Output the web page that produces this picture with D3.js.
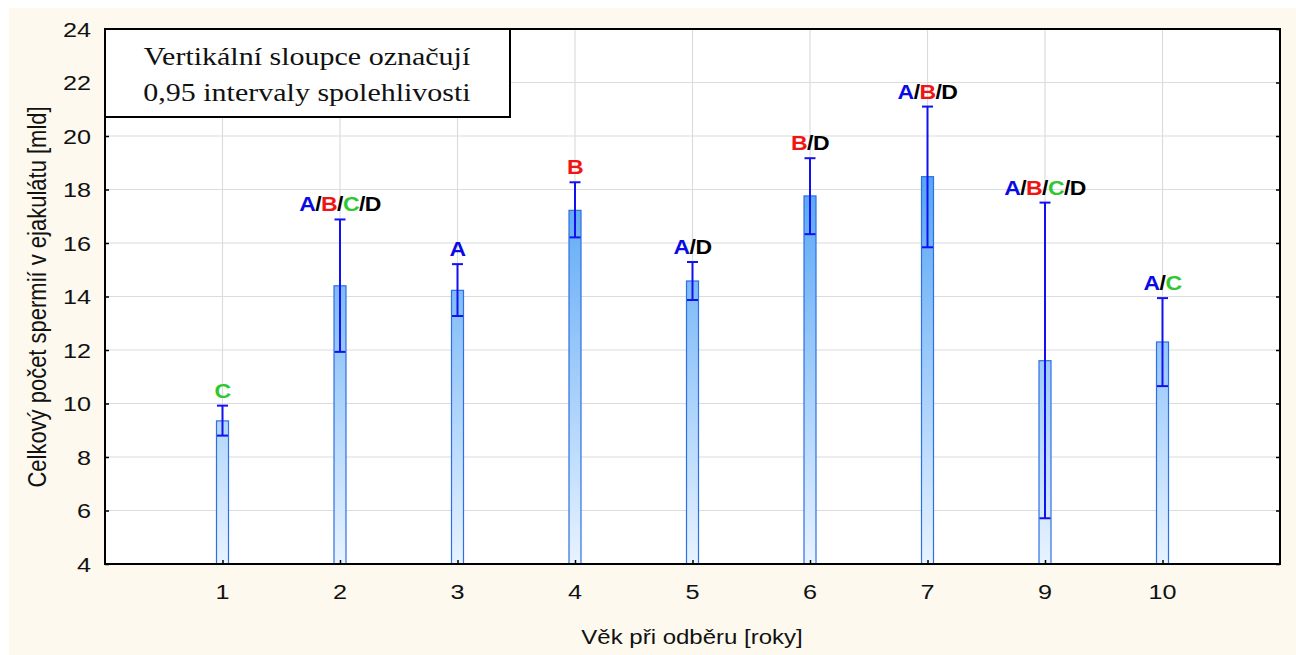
<!DOCTYPE html>
<html>
<head>
<meta charset="utf-8">
<script src="https://cdn.jsdelivr.net/npm/d3@7"></script>
<style>
  html, body { margin: 0; padding: 0; background: #ffffff; }
  svg { display: block; }
</style>
</head>
<body>
<svg id="chart" width="1296" height="655"></svg>
<script>
// Age at sampling (categories), mean total sperm count and 95% confidence bounds
const ages   = ["1", "2", "3", "4", "5", "6", "7", "9", "10"];
const means  = [9.35, 14.4, 14.23, 17.22, 14.58, 17.76, 18.48, 11.6, 12.3];
const upper  = [9.92, 16.88, 15.21, 18.27, 15.29, 19.17, 21.1, 17.51, 13.94];
const lower  = [8.8, 11.93, 13.27, 16.21, 13.87, 16.33, 15.84, 5.71, 10.65];
const groups = ["C", "A/B/C/D", "A", "B", "A/D", "B/D", "A/B/D", "A/B/C/D", "A/C"];
const yTicks = [4, 6, 8, 10, 12, 14, 16, 18, 20, 22, 24];

const groupColor = { A: "#0a0ae6", B: "#f01414", C: "#30c830", D: "#000000", "/": "#000000" };

const svg = d3.select("#chart");
const W = 1296, H = 655;
const plot = { left: 105, right: 1280, top: 29, bottom: 564 };
const SX = 1.2;               // horizontal widening of the lettering
const axisFont = "Arial, 'Liberation Sans', sans-serif";

// places a text element at (px, py) with widened glyphs
const placed = (sel, px, py, sx = SX) => sel.attr("transform", `translate(${px},${py}) scale(${sx},1)`);

// page background
svg.append("rect").attr("x", 0).attr("y", 0).attr("width", W).attr("height", H).attr("fill", "#ffffff");
svg.append("rect").attr("x", 9).attr("y", 8).attr("width", W - 9).attr("height", H - 8).attr("fill", "#fdf9ee");

const x = d3.scaleLinear().domain([0, ages.length + 1]).range([plot.left, plot.right]);
const y = d3.scaleLinear().domain([4, 24]).range([plot.bottom, plot.top]);
const xPos = i => x(i + 1);

// plot area
svg.append("rect")
  .attr("x", plot.left).attr("y", plot.top)
  .attr("width", plot.right - plot.left).attr("height", plot.bottom - plot.top)
  .attr("fill", "#ffffff");

// gradient for bar fill, defined along the value axis
const defs = svg.append("defs");
const grad = defs.append("linearGradient")
  .attr("id", "barFill").attr("gradientUnits", "userSpaceOnUse")
  .attr("x1", 0).attr("x2", 0).attr("y1", y(4)).attr("y2", y(18.5));
grad.append("stop").attr("offset", "0%").attr("stop-color", "#e8f3fe");
grad.append("stop").attr("offset", "100%").attr("stop-color", "#56a5f5");

// grid lines
const grid = svg.append("g").attr("stroke", "#dcdcdc").attr("stroke-width", 1.2);
yTicks.slice(1, -1).forEach(t => {
  grid.append("line").attr("x1", plot.left).attr("x2", plot.right)
    .attr("y1", y(t)).attr("y2", y(t));
});
ages.forEach((a, i) => {
  grid.append("line").attr("x1", xPos(i)).attr("x2", xPos(i))
    .attr("y1", plot.top).attr("y2", plot.bottom);
});

// bars
const barW = 12;
svg.append("g").selectAll("rect").data(means).join("rect")
  .attr("x", (d, i) => xPos(i) - barW / 2)
  .attr("y", d => y(d))
  .attr("width", barW)
  .attr("height", d => y(4) - y(d))
  .attr("fill", "url(#barFill)")
  .attr("stroke", "#2f6fe4")
  .attr("stroke-width", 1.2);

// confidence intervals
const ci = svg.append("g").attr("stroke", "#1212f0").attr("stroke-width", 2);
ages.forEach((a, i) => {
  const cx = xPos(i), capW = 11;
  ci.append("line").attr("x1", cx).attr("x2", cx).attr("y1", y(upper[i])).attr("y2", y(lower[i]));
  ci.append("line").attr("x1", cx - capW / 2).attr("x2", cx + capW / 2).attr("y1", y(upper[i])).attr("y2", y(upper[i]));
  ci.append("line").attr("x1", cx - capW / 2).attr("x2", cx + capW / 2).attr("y1", y(lower[i])).attr("y2", y(lower[i]));
});

// homogeneous group labels above the intervals
const labels = svg.append("g")
  .attr("font-family", axisFont)
  .attr("font-weight", "bold").attr("font-size", 20)
  .attr("text-anchor", "middle");
groups.forEach((g, i) => {
  const t = placed(labels.append("text"), xPos(i), y(upper[i]) - 8, 1.15)
    .attr("letter-spacing", -0.5);
  g.split(/(\/)/).filter(s => s.length).forEach(part => {
    t.append("tspan").text(part).attr("fill", groupColor[part]);
  });
});

// axes: inward ticks on all sides
const yAxisL = svg.append("g").attr("transform", `translate(${plot.left},0)`)
  .call(d3.axisRight(y).tickValues(yTicks).tickSize(4).tickFormat(""));
const yAxisR = svg.append("g").attr("transform", `translate(${plot.right},0)`)
  .call(d3.axisLeft(y).tickValues(yTicks).tickSize(4).tickFormat(""));
const xAxisB = svg.append("g").attr("transform", `translate(0,${plot.bottom})`)
  .call(d3.axisTop(x).tickValues(ages.map((a, i) => i + 1)).tickSize(4).tickFormat(""));
[yAxisL, yAxisR, xAxisB].forEach(g => {
  g.select(".domain").remove();
  g.selectAll(".tick line").attr("stroke", "#000").attr("stroke-width", 1.5);
});

// y tick labels
svg.append("g").selectAll("text").data(yTicks).join("text")
  .each(function (d) { placed(d3.select(this), 91, y(d) + 7.5); })
  .attr("text-anchor", "end")
  .attr("font-family", axisFont).attr("font-size", 21).attr("fill", "#111")
  .text(d => d);

// x tick labels
svg.append("g").selectAll("text").data(ages).join("text")
  .each(function (d, i) { placed(d3.select(this), xPos(i), 599); })
  .attr("text-anchor", "middle")
  .attr("font-family", axisFont).attr("font-size", 21).attr("fill", "#111")
  .text(d => d);

// frame
svg.append("rect")
  .attr("x", plot.left).attr("y", plot.top)
  .attr("width", plot.right - plot.left).attr("height", plot.bottom - plot.top)
  .attr("fill", "none").attr("stroke", "#000").attr("stroke-width", 2);

// axis titles
placed(svg.append("text"), 692, 644)
  .attr("text-anchor", "middle")
  .attr("font-family", axisFont).attr("font-size", 20).attr("fill", "#111")
  .text("Věk při odběru [roky]");
svg.append("text")
  .attr("transform", `translate(46,297) scale(${SX},1) rotate(-90)`)
  .attr("text-anchor", "middle")
  .attr("font-family", axisFont).attr("font-size", 22).attr("fill", "#111")
  .text("Celkový počet spermií v ejakulátu [mld]");

// note box
const note = svg.append("g");
note.append("rect")
  .attr("x", plot.left).attr("y", plot.top)
  .attr("width", 405).attr("height", 88)
  .attr("fill", "#ffffff").attr("stroke", "#000").attr("stroke-width", 2);
placed(note.append("text"), plot.left + 202, 65)
  .attr("text-anchor", "middle")
  .attr("font-family", "'Liberation Serif', 'Times New Roman', serif")
  .attr("font-size", 25).attr("fill", "#111")
  .text("Vertikální sloupce označují");
placed(note.append("text"), plot.left + 202, 101)
  .attr("text-anchor", "middle")
  .attr("font-family", "'Liberation Serif', 'Times New Roman', serif")
  .attr("font-size", 25).attr("fill", "#111")
  .text("0,95 intervaly spolehlivosti");
</script>
</body>
</html>
